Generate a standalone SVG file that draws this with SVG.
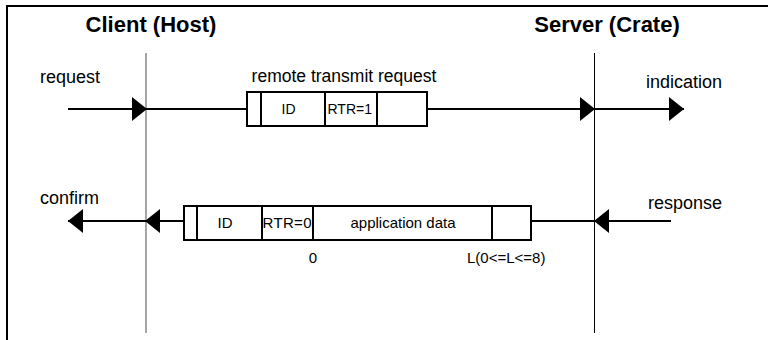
<svg xmlns="http://www.w3.org/2000/svg" width="768" height="340" viewBox="0 0 768 340">
<style>
text{font-family:"Liberation Sans",Arial,sans-serif;fill:#000}
.title{font-size:22px;font-weight:bold}
.lbl{font-size:18px}
.cell{font-size:14px}
.cell2{font-size:15px}
.box{fill:#fff;stroke:#000;stroke-width:2}
.ln{stroke:#000;stroke-width:2;fill:none}
</style>
<defs>
<marker id="arr" viewBox="0 0 15 24" refX="15" refY="12" markerWidth="15" markerHeight="24" markerUnits="userSpaceOnUse" orient="auto">
<path d="M0,0 L15,12 L0,24 Z" fill="#000"/>
</marker>
</defs>
<rect width="768" height="340" fill="#fff"/>
<g id="frame"><path d="M7,340 V6 H768" fill="none" stroke="#000" stroke-width="2"/></g>
<g id="client">
<text class="title" x="151" y="32" text-anchor="middle">Client (Host)</text>
<line x1="146" y1="53" x2="146" y2="333" stroke="#888" stroke-width="1.5"/>
</g>
<g id="server">
<text class="title" x="607" y="32" text-anchor="middle">Server (Crate)</text>
<line x1="594.5" y1="53" x2="594.5" y2="333" stroke="#000" stroke-width="1"/>
</g>
<g id="labels">
<text class="lbl" x="40" y="83">request</text>
<text class="lbl" x="344" y="82" text-anchor="middle" style="font-size:17.5px">remote transmit request</text>
<text class="lbl" x="646" y="88">indication</text>
<text class="lbl" x="40" y="204">confirm</text>
<text class="lbl" x="648" y="209">response</text>
</g>
<g id="frame-rtr">
<rect class="box" x="247" y="92" width="180" height="34"/>
<line class="ln" x1="261" y1="92" x2="261" y2="126"/>
<line class="ln" x1="325" y1="92" x2="325" y2="126"/>
<line class="ln" x1="377" y1="92" x2="377" y2="126"/>
<text class="cell" x="288.5" y="114" text-anchor="middle">ID</text>
<text class="cell" x="327.5" y="114">RTR=1</text>
</g>
<g id="frame-data">
<rect class="box" x="184" y="206" width="347" height="34"/>
<line class="ln" x1="197" y1="206" x2="197" y2="240"/>
<line class="ln" x1="262" y1="206" x2="262" y2="240"/>
<line class="ln" x1="313" y1="206" x2="313" y2="240"/>
<line class="ln" x1="492" y1="206" x2="492" y2="240"/>
<text class="cell2" x="225" y="228" text-anchor="middle">ID</text>
<text class="cell2" x="262.5" y="228" textLength="49">RTR=0</text>
<text class="cell2" x="403" y="228" text-anchor="middle">application data</text>
<text class="cell2" x="313" y="263" text-anchor="middle">0</text>
<text class="cell2" x="467" y="263">L(0&lt;=L&lt;=8)</text>
</g>
<g id="connectors">
<line class="ln" x1="68" y1="109" x2="147" y2="109" marker-end="url(#arr)"/>
<line class="ln" x1="147" y1="109" x2="247" y2="109"/>
<line class="ln" x1="427" y1="109" x2="595" y2="109" marker-end="url(#arr)"/>
<line class="ln" x1="595" y1="109" x2="684" y2="109" marker-end="url(#arr)"/>
<line class="ln" x1="671" y1="221" x2="594" y2="221" marker-end="url(#arr)"/>
<line class="ln" x1="531" y1="221" x2="594" y2="221"/>
<line class="ln" x1="184" y1="221" x2="145" y2="221" marker-end="url(#arr)"/>
<line class="ln" x1="145" y1="221" x2="68" y2="221" marker-end="url(#arr)"/>
</g>
</svg>
